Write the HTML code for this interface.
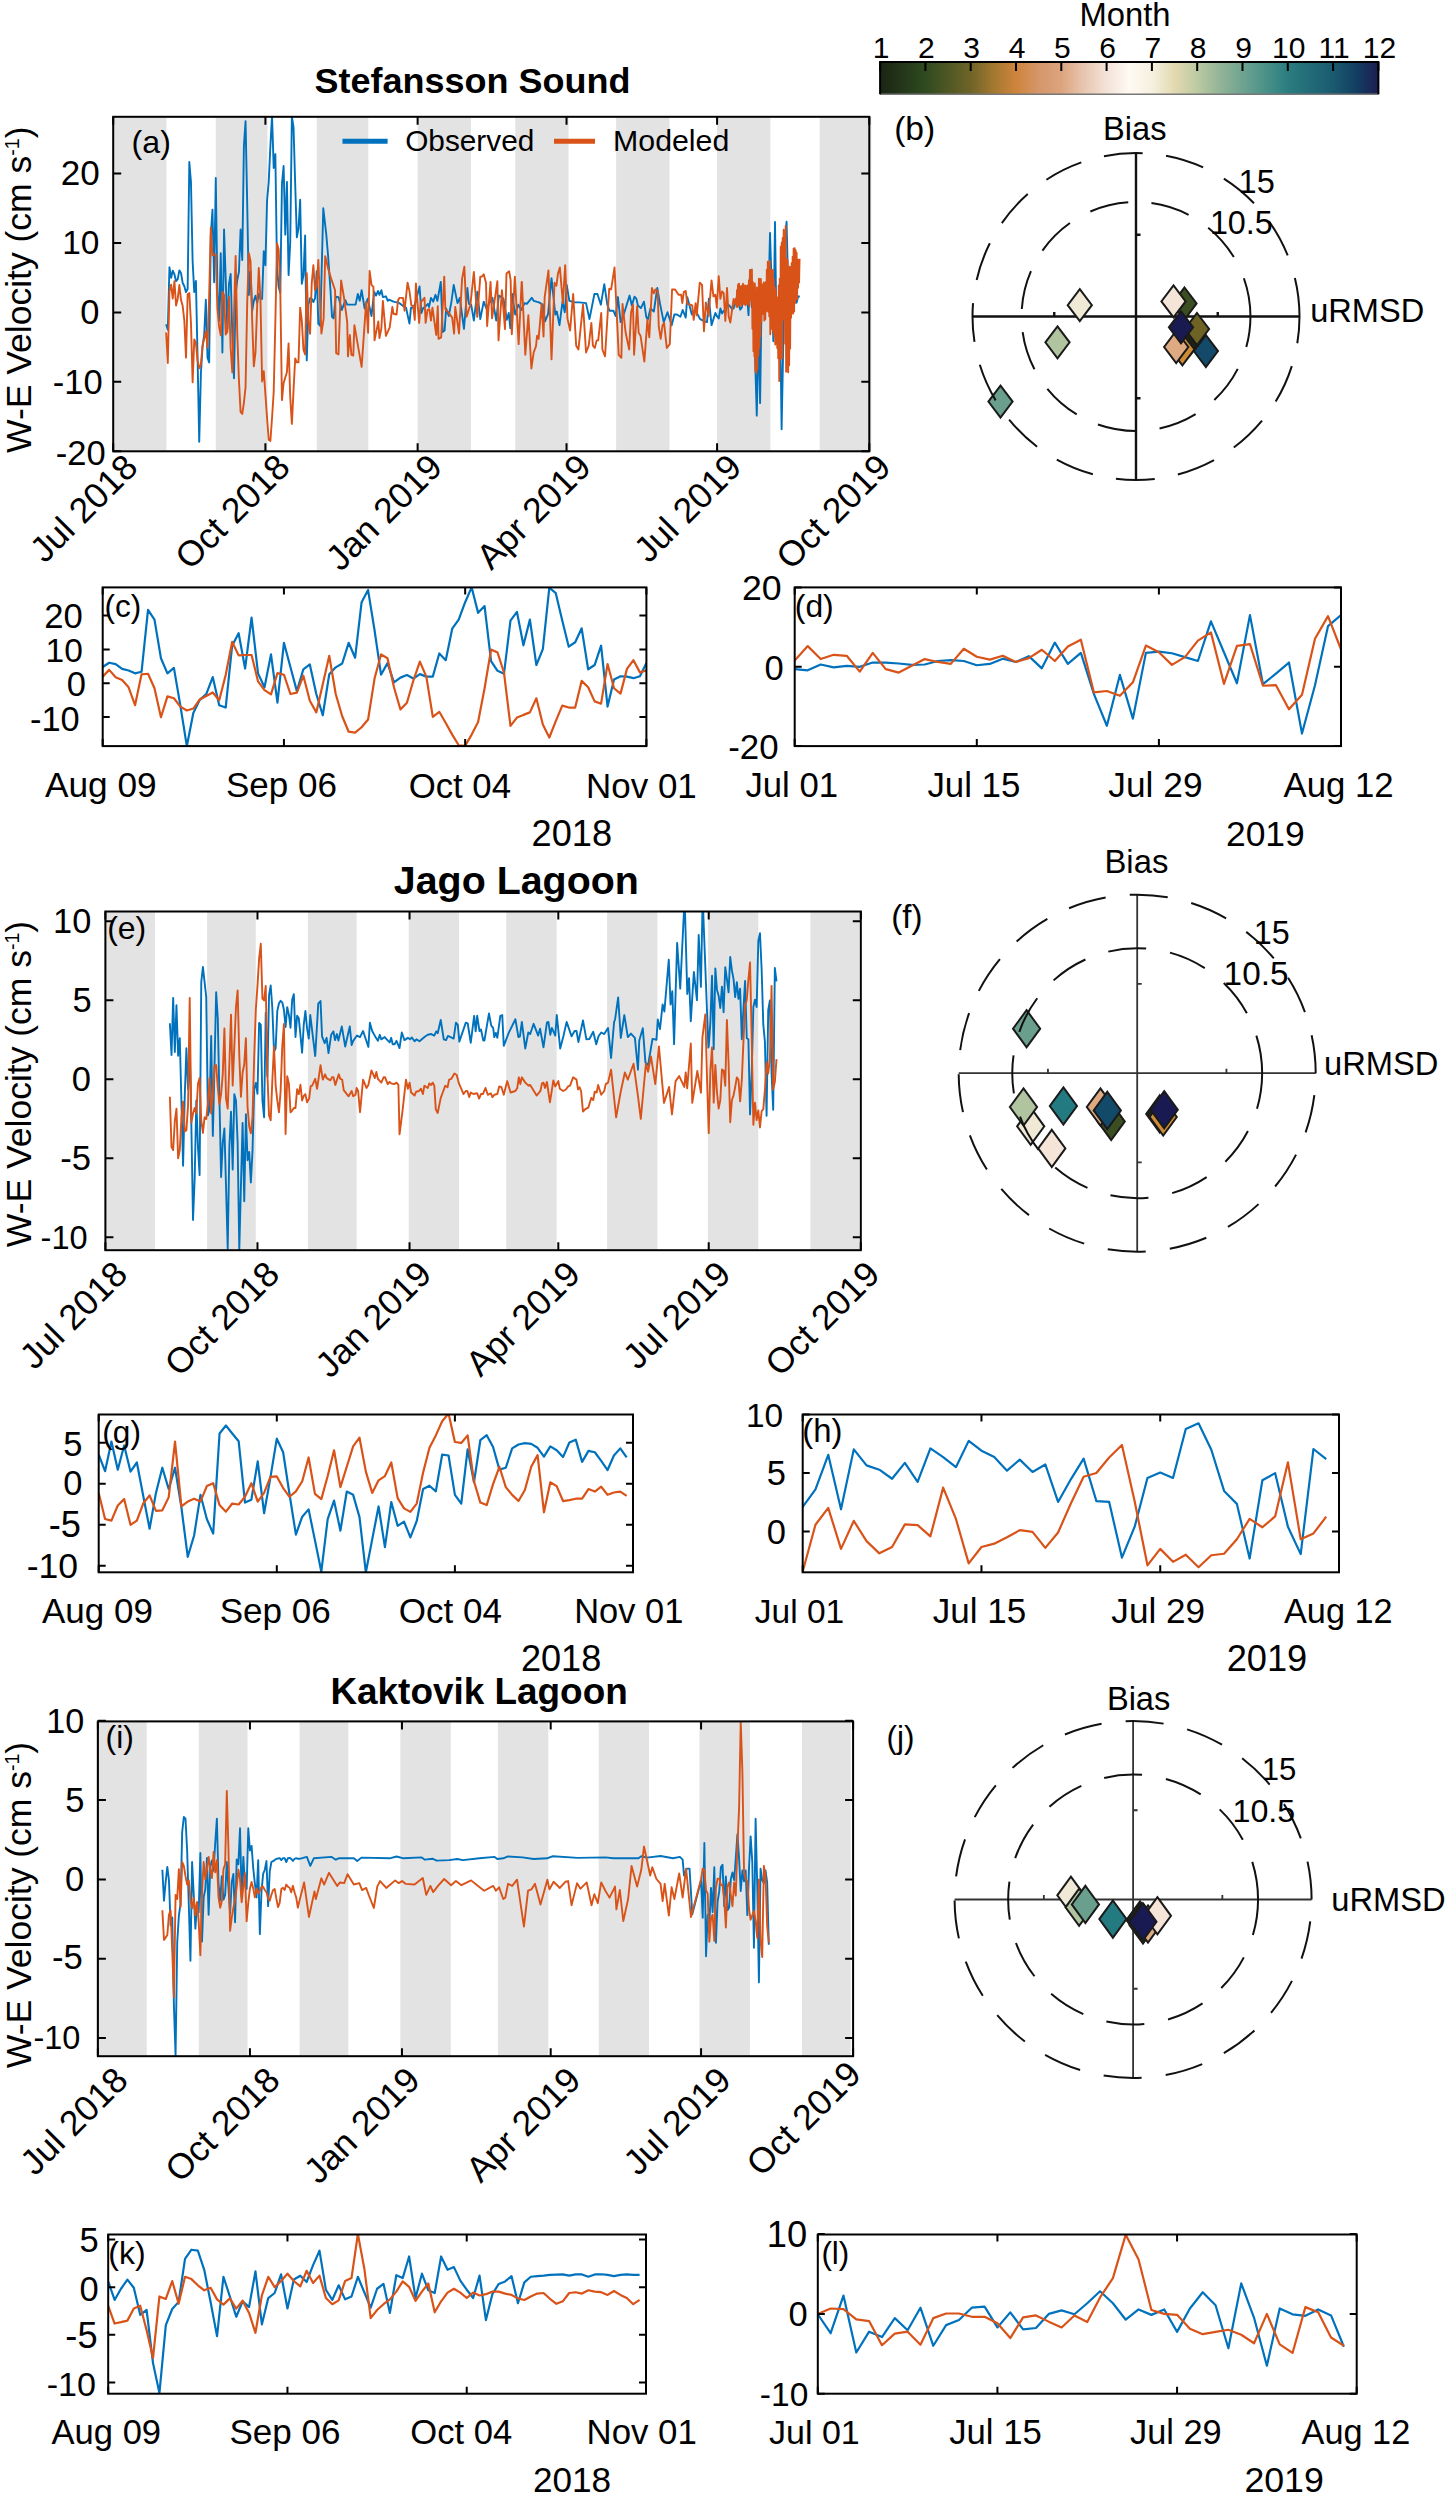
<!DOCTYPE html><html><head><meta charset="utf-8"><style>html,body{margin:0;padding:0;background:#fff;overflow:hidden;}svg{display:block;}</style></head><body><svg width="1449" height="2500" viewBox="0 0 1449 2500" font-family="Liberation Sans, sans-serif" fill="#000">
<rect width="1449" height="2500" fill="#fff"/>
<rect x="113.2" y="116.8" width="53.29" height="334.5" fill="#e3e3e3"/>
<rect x="215.78" y="116.8" width="51.63" height="334.5" fill="#e3e3e3"/>
<rect x="316.7" y="116.8" width="51.63" height="334.5" fill="#e3e3e3"/>
<rect x="417.63" y="116.8" width="53.29" height="334.5" fill="#e3e3e3"/>
<rect x="515.24" y="116.8" width="53.29" height="334.5" fill="#e3e3e3"/>
<rect x="616.16" y="116.8" width="53.29" height="334.5" fill="#e3e3e3"/>
<rect x="717.09" y="116.8" width="53.29" height="334.5" fill="#e3e3e3"/>
<rect x="819.67" y="116.8" width="51.63" height="334.5" fill="#e3e3e3"/>
<clipPath id="c1"><rect x="113.2" y="116.8" width="756.1" height="334.5"/></clipPath>
<polyline points="166.14,324.2 167.8,329.75 169.45,267.29 171.11,277.7 172.76,270.76 174.42,274.23 176.07,281.17 177.72,279.07 179.38,270.34 181.03,273.12 182.69,283.04 184.34,286.21 186,292.16 187.65,288.99 189.31,162.01 190.96,181.85 192.62,261.21 194.27,292.16 195.92,281.05 197.58,358.43 199.23,441.76 200.89,373.51 202.54,346.52 204.2,334.62 205.85,299.7 207.51,357.63 209.16,362.4 210.81,235.42 212.47,209.63 214.12,282.24 215.78,177.89 217.43,292.16 219.09,320.73 220.74,253.28 222.4,352.48 224.05,229.47 225.71,279.07 227.36,328.67 229.01,283.83 230.67,273.91 232.32,334.62 233.98,378.27 235.63,294.15 237.29,279.86 238.94,271.93 240.6,229.47 242.25,260.02 243.9,146.14 245.56,121.14 247.21,203.68 248.87,294.94 250.52,271.13 252.18,310.81 253.83,300.89 255.49,295.73 257.14,302.88 258.79,293.75 260.45,298.91 262.1,298.91 263.76,251.29 265.41,265.18 267.07,200.5 268.72,181.85 270.38,146.14 272.03,115.59 273.69,167.97 275.34,154.08 276.99,267.17 278.65,287 280.3,292.96 281.96,183.84 283.61,165.98 285.27,234.63 286.92,181.85 288.58,275.1 290.23,242.56 291.88,116.38 293.54,127.49 295.19,183.84 296.85,237.41 298.5,228.28 300.16,199.71 301.81,283.83 303.47,275.1 305.12,235.42 306.77,360.41 308.43,304.86 310.08,298.12 311.74,298.91 313.39,302.08 315.05,298.12 316.7,271.13 318.34,323.65 320.24,325.93 323.28,208.24 326.32,234.81 328.21,257.59 330.49,290.24 332.01,316.82 333.53,318.34 335.81,296.7 338.47,297.08 341.88,309.99 345.3,300.11 347.2,304.67 351.75,304.67 355.55,304.67 357.83,294.04 359.73,300.87 361.62,290.24 364.66,308.47 367.7,298.6 371.49,316.06 374.15,291.76 376.05,295.56 377.95,291 379.47,294.8 381.36,290.24 382.88,297.08 385.92,296.32 387.82,300.87 388.96,299.73 393.51,301.63 399.59,303.15 403.38,306.19 406.04,307.71 409.46,323.65 410.98,307.71 412.5,307.71 414.77,304.67 419.55,286.45 421.45,313.02 422.97,308.47 426.38,305.43 427.9,303.91 429.04,306.95 430.94,297.84 433.22,301.63 435.49,294.8 437.39,300.87 440.81,281.89 442.71,332.01 444.61,330.49 446.12,308.47 448.78,316.06 451.44,301.63 453.72,284.93 457.51,303.15 459.79,297.84 463.97,328.97 467.38,287.97 468.9,303.91 471.18,304.67 473.84,320.62 477.26,291.76 480.29,319.1 483.71,301.63 486.37,308.47 489.4,303.15 492.44,297.84 496.24,320.62 498.89,295.56 503.45,298.6 506.87,319.86 508.77,313.02 510.28,328.21 512.18,294.04 515.22,314.54 518.26,304.67 521.29,309.99 524.55,303.15 526.83,303.91 531.76,297.84 533.66,300.87 538.98,302.39 542.77,304.67 545.05,321.37 548.09,313.78 551.51,278.09 555.3,314.54 556.82,311.5 559.48,325.17 562.52,301.63 564.79,312.26 566.69,284.93 569.35,300.87 574.66,302.39 579.22,302.39 586.05,303.15 589.47,319.1 594.41,294.04 597.44,294.04 600.86,304.67 604.28,284.17 607.31,304.67 609.59,310.74 613.39,310.74 615.67,316.06 617.94,297.08 620.6,322.13 623.26,316.06 629.55,295.56 631.82,305.43 634.48,296.7 636.38,298.6 637.9,305.43 640.93,308.09 643.97,301.63 646.25,316.82 647.77,319.86 650.43,308.47 653.84,311.5 657.26,287.97 659.92,303.15 663.71,322.13 667.51,312.26 671.69,325.17 674.34,314.54 677,314.54 680.42,316.82 682.7,309.99 685.73,317.58 687.25,297.08 691.81,314.54 695.6,310.74 700.16,319.1 704.71,321.37 706.99,322.13 708.89,298.6 711.55,325.17 715.34,313.02 717.09,316.46 718.74,318.49 720.4,308.34 722.05,313.42 723.71,310.71 725.36,312.4 727.01,304.95 728.67,304.95 730.32,306.64 731.98,309.01 733.63,308.34 735.29,302.24 736.94,300.55 738.6,302.24 740.25,309.69 741.9,307.32 743.56,298.18 745.21,303.94 746.87,293.78 748.52,315.11 750.18,270.08 751.83,307.32 753.49,288.03 755.14,359.8 756.79,415.65 758.45,326.62 760.1,403.13 761.76,288.03 763.41,285.99 765.07,288.7 766.72,295.47 768.38,302.24 770.03,232.84 771.69,287.01 773.34,341.18 774.99,222.01 776.65,342.87 778.3,324.25 779.96,304.95 781.61,429.2 783.27,344.56 784.92,241.31 786.58,221.67 788.23,291.58 789.88,270.76 791.54,302.68 793.19,275.62 794.85,298.52 796.5,302.68 798.16,296.44 799.81,296.44" fill="none" stroke="#0072BD" stroke-width="1.9" stroke-linejoin="round" clip-path="url(#c1)"/>
<polyline points="166.14,332.53 167.8,363.06 169.45,291.58 171.11,284.64 172.76,298.52 174.42,281.17 176.07,305.46 177.72,298.91 179.38,285.02 181.03,300.1 182.69,306.05 184.34,320.73 186,357.63 187.65,294.15 189.31,292.96 190.96,322.72 192.62,382.24 194.27,339.38 195.92,343.35 197.58,360.41 199.23,368.35 200.89,364.38 202.54,345.73 204.2,338.59 205.85,331.45 207.51,347.32 209.16,295.73 210.81,227.49 212.47,255.26 214.12,254.47 215.78,254.47 217.43,308.83 219.09,326.68 220.74,335.41 222.4,291.77 224.05,294.94 225.71,334.62 227.36,331.84 229.01,296.92 230.67,348.51 232.32,372.32 233.98,314.78 235.63,256.05 237.29,334.62 238.94,380.25 240.6,412 242.25,413.98 243.9,402.87 245.56,387 247.21,302.88 248.87,253.28 250.52,261.21 252.18,320.73 253.83,366.36 255.49,352.48 257.14,306.84 258.79,267.96 260.45,298.91 262.1,381.44 263.76,371.13 265.41,394.14 267.07,417.95 268.72,439.77 270.38,440.96 272.03,417.95 273.69,392.16 275.34,322.72 276.99,243.36 278.65,249.31 280.3,290.97 281.96,400.09 283.61,383.03 285.27,377.47 286.92,372.32 288.58,343.35 290.23,397.31 291.88,423.9 293.54,390.17 295.19,358.43 296.85,362.4 298.5,362.4 300.16,307.64 301.81,320.73 303.47,349.7 305.12,354.46 306.77,273.12 308.43,322.72 310.08,333.83 311.74,283.04 313.39,265.18 315.05,290.18 316.7,286.21 318.34,259.87 321.38,333.52 323.66,318.34 325.18,256.08 328.21,268.98 331.25,278.85 335.05,290.24 336.19,353.27 338.47,354.4 341.12,280.37 344.16,298.6 347.2,322.13 347.96,356.3 349.85,335.04 351.37,354.78 353.27,355.54 354.41,325.17 361.62,366.93 366.18,301.63 368.08,332.76 369.6,270.88 371.49,284.93 373.39,286.83 374.53,340.36 378.33,321.37 379.47,338.08 381.36,328.21 382.88,300.87 385.92,335.8 389.72,327.45 392.37,306.95 393.51,313.78 396.55,314.54 398.07,300.11 399.59,297.84 403,297.84 404.52,310.74 407.56,282.65 409.46,291 411.36,305.43 413.25,306.19 414.77,319.86 415.91,283.41 419.17,322.89 420.69,302.39 424.48,297.84 425.62,322.89 427.52,309.99 429.42,309.23 430.94,320.62 432.46,307.71 436.25,335.04 437.77,306.19 438.53,338.84 441.19,337.32 444.23,276.58 445.37,309.23 448.4,312.26 452.2,317.58 454.1,333.52 455.24,306.95 459.03,333.52 462.07,278.85 464.35,266.71 466.63,316.82 470.42,304.67 473.84,272.02 477.26,316.82 480.29,276.58 481.81,276.58 483.71,274.3 485.99,282.65 487.13,325.93 490.54,281.89 492.06,318.34 497.38,281.13 498.52,340.36 501.93,290.24 504.97,328.97 506.49,273.54 509.15,271.26 510.66,280.37 511.8,334.28 514.84,276.58 518.64,344.15 521.67,281.89 521.89,281.89 525.31,354.78 528.35,315.3 531.38,368.45 533.66,352.51 535.94,346.43 537.08,335.8 538.6,338.84 541.64,303.91 543.53,336.56 544.67,297.08 548.47,270.5 551.51,359.34 554.54,282.65 556.44,285.69 557.96,273.54 559.86,267.46 562.9,303.15 565.17,265.19 567.45,318.34 570.11,330.49 573.15,294.04 576.18,345.67 578.46,349.47 583.02,304.67 586.05,352.51 588.71,345.67 591.37,322.89 592.89,345.67 594.79,347.95 596.68,340.36 598.2,340.36 601.24,313.02 602.38,349.47 605.04,356.3 609.21,288.73 611.11,289.48 614.53,267.46 618.7,354.78 621.36,357.82 622.5,303.91 625.54,332.01 629.17,349.47 631.06,312.26 632.96,304.67 634.1,354.78 637.14,306.19 638.66,332.76 640.56,335.8 644.35,361.62 647.39,319.86 649.29,337.32 651.94,287.97 653.84,293.28 655.36,289.48 657.64,291 658.78,326.69 660.68,338.84 662.57,325.17 664.09,322.89 666.75,347.95 669.79,344.15 672.07,289.48 675.1,289.48 678.52,294.8 681.18,294.8 682.32,303.15 683.83,291.76 685.73,291 687.25,303.91 690.29,304.67 692.19,305.43 693.71,319.86 695.6,303.15 696.74,315.3 699.78,282.65 702.06,284.93 703.96,331.25 705.85,302.39 708.51,316.06 711.55,280.37 713.45,296.32 715.34,294.8 716.86,307.71 717.09,301.57 718.74,276.18 720.4,298.86 722.05,291.41 723.71,293.1 725.36,320.86 727.01,288.03 728.67,316.46 730.32,322.56 731.98,310.71 733.63,298.86 735.29,303.94 736.03,298.3 736.53,306.87 737.03,289.98 737.52,306.87 738.02,284.81 738.52,305.34 739.01,283.6 739.51,304.89 740,286.09 740.5,303.29 741,287.31 741.49,306 741.99,285.72 742.49,303.21 742.98,283.77 743.48,303.79 743.97,286.18 744.47,303.93 744.97,285.33 745.46,305.29 745.96,285.64 746.46,303.84 746.95,287.29 747.45,303.81 747.95,285.25 748.44,301.99 748.94,280.19 749.43,306.12 749.93,270 750.43,300.19 750.92,275.06 751.42,299.95 751.92,269.41 752.41,328.76 752.91,281.94 753.41,351.15 753.9,288.46 754.4,356.42 754.89,283.55 755.39,371.01 755.89,297.31 756.38,372.96 756.88,287.41 757.38,369.2 757.87,298.93 758.37,355.63 758.87,278.81 759.36,347.74 759.86,279.61 760.35,336.49 760.85,278.92 761.35,322.25 761.84,284.22 762.34,309.32 762.84,285.37 763.33,314.06 763.83,282.49 764.32,320.45 764.82,287.61 765.32,319.29 765.81,281.84 766.31,311.26 766.81,269.66 767.3,310.19 767.8,261.75 768.3,311.72 768.79,263.44 769.29,316.37 769.78,260.91 770.28,334.25 770.78,269.81 771.27,327.36 771.77,270.15 772.27,329.35 772.76,269.83 773.26,331.93 773.76,278.65 774.25,335.98 774.75,286.9 775.24,344.47 775.74,290.31 776.24,338.21 776.73,297.15 777.23,348 777.73,299.43 778.22,358.3 778.72,285.36 779.22,380.96 779.71,278.79 780.21,359.39 780.7,246.59 781.2,358.3 781.7,242.6 782.19,358.24 782.69,237.84 783.19,319.82 783.68,229.82 784.18,318.1 784.68,236.23 785.17,343.45 785.67,226.03 786.16,371.67 786.66,259.31 787.16,356.88 787.65,260.3 788.15,372.23 788.65,276 789.14,365.36 789.64,266.66 790.13,348.65 790.63,268.41 791.13,317.62 791.62,263.28 792.12,306.69 792.62,256.71 793.11,313.62 793.61,248.63 794.11,311.47 794.6,248.11 795.1,302.95 795.59,250.08 796.09,299.35 796.59,252.73 797.08,299.02 797.58,259.48 798.08,287.75 798.57,260.6 799.07,282.57 799.57,258.75" fill="none" stroke="#D95319" stroke-width="1.9" stroke-linejoin="round" clip-path="url(#c1)"/>
<path d="M113.2 451.3V443.3 M113.2 116.8V124.8 M265.41 451.3V443.3 M265.41 116.8V124.8 M417.63 451.3V443.3 M417.63 116.8V124.8 M566.53 451.3V443.3 M566.53 116.8V124.8 M717.09 451.3V443.3 M717.09 116.8V124.8 M869.3 451.3V443.3 M869.3 116.8V124.8 M113.2 451.2H121.2 M869.3 451.2H861.3 M113.2 381.8H121.2 M869.3 381.8H861.3 M113.2 312.4H121.2 M869.3 312.4H861.3 M113.2 243H121.2 M869.3 243H861.3 M113.2 173.6H121.2 M869.3 173.6H861.3" stroke="#000" stroke-width="2" fill="none"/>
<rect x="113.2" y="116.8" width="756.1" height="334.5" fill="none" stroke="#000" stroke-width="2"/>
<text x="139.7" y="469.3" font-size="35.5" text-anchor="end" transform="rotate(-45 139.7 469.3)">Jul 2018</text>
<text x="291.91" y="469.3" font-size="35.5" text-anchor="end" transform="rotate(-45 291.91 469.3)">Oct 2018</text>
<text x="444.13" y="469.3" font-size="35.5" text-anchor="end" transform="rotate(-45 444.13 469.3)">Jan 2019</text>
<text x="593.03" y="469.3" font-size="35.5" text-anchor="end" transform="rotate(-45 593.03 469.3)">Apr 2019</text>
<text x="743.59" y="469.3" font-size="35.5" text-anchor="end" transform="rotate(-45 743.59 469.3)">Jul 2019</text>
<text x="892.8" y="469.3" font-size="35.5" text-anchor="end" transform="rotate(-45 892.8 469.3)">Oct 2019</text>
<text x="31" y="289.7" font-size="35.5" text-anchor="middle" transform="rotate(-90 31 289.7)">W-E Velocity (cm s<tspan font-size="19.53" dy="-11.71">-1</tspan><tspan dy="11.71">)</tspan></text>
<path d="M342.5 141.3H387.6" stroke="#0072BD" stroke-width="5"/>
<path d="M554 141.3H595" stroke="#D95319" stroke-width="5"/>
<defs><linearGradient id="cmap" x1="0" x2="1" y1="0" y2="0">
<stop offset="0.0000" stop-color="#1a2414"/>
<stop offset="0.0909" stop-color="#2f4a20"/>
<stop offset="0.1818" stop-color="#6f6428"/>
<stop offset="0.2273" stop-color="#a27830"/>
<stop offset="0.2727" stop-color="#cf843c"/>
<stop offset="0.3182" stop-color="#d5966a"/>
<stop offset="0.3636" stop-color="#dca47e"/>
<stop offset="0.4091" stop-color="#e8c6b0"/>
<stop offset="0.4545" stop-color="#f3e2d8"/>
<stop offset="0.5000" stop-color="#fffaf2"/>
<stop offset="0.5455" stop-color="#f6f0e0"/>
<stop offset="0.5909" stop-color="#e3d9b1"/>
<stop offset="0.6364" stop-color="#bccaa2"/>
<stop offset="0.6818" stop-color="#93b497"/>
<stop offset="0.7273" stop-color="#6fa391"/>
<stop offset="0.7727" stop-color="#4a9288"/>
<stop offset="0.8182" stop-color="#2b7d80"/>
<stop offset="0.8636" stop-color="#226b78"/>
<stop offset="0.9091" stop-color="#1b5a70"/>
<stop offset="0.9545" stop-color="#123f62"/>
<stop offset="1.0000" stop-color="#1d1d52"/>
</linearGradient></defs>
<rect x="880.1" y="62.1" width="498.3" height="32.1" fill="url(#cmap)"/>
<path d="M880.1 94.2H1378.4" stroke="#777" stroke-width="1.5"/>
<path d="M880.1 94.2V62.1 H1378.4 V94.2" stroke="#000" stroke-width="2" fill="none"/>
<path d="M880.1 62.1V71.1 M925.4 62.1V71.1 M970.7 62.1V71.1 M1016 62.1V71.1 M1061.3 62.1V71.1 M1106.6 62.1V71.1 M1151.9 62.1V71.1 M1197.2 62.1V71.1 M1242.5 62.1V71.1 M1287.8 62.1V71.1 M1333.1 62.1V71.1 M1378.4 62.1V71.1" stroke="#000" stroke-width="2"/>
<text x="881.1" y="57.6" font-size="30" text-anchor="middle">1</text>
<text x="926.4" y="57.6" font-size="30" text-anchor="middle">2</text>
<text x="971.7" y="57.6" font-size="30" text-anchor="middle">3</text>
<text x="1017" y="57.6" font-size="30" text-anchor="middle">4</text>
<text x="1062.3" y="57.6" font-size="30" text-anchor="middle">5</text>
<text x="1107.6" y="57.6" font-size="30" text-anchor="middle">6</text>
<text x="1152.9" y="57.6" font-size="30" text-anchor="middle">7</text>
<text x="1198.2" y="57.6" font-size="30" text-anchor="middle">8</text>
<text x="1243.5" y="57.6" font-size="30" text-anchor="middle">9</text>
<text x="1288.8" y="57.6" font-size="30" text-anchor="middle">10</text>
<text x="1334.1" y="57.6" font-size="30" text-anchor="middle">11</text>
<text x="1379.4" y="57.6" font-size="30" text-anchor="middle">12</text>
<path d="M972.5 316.5H1299.5 M1136 153V480" stroke="#111" stroke-width="2.4"/>
<path d="M1054.25 316.5V312 M1217.75 316.5V312 M1136 234.75H1140.5 M1136 398.25H1140.5" stroke="#111" stroke-width="2.4"/>
<path d="M1190 323L1202.1 339L1190 355L1177.9 339Z" fill="#1c2216" stroke="#1a1a1a" stroke-width="2" stroke-linejoin="miter" stroke-miterlimit="10"/>
<path d="M1184.5 287.5L1196.6 303.5L1184.5 319.5L1172.4 303.5Z" fill="#3a4e22" stroke="#1a1a1a" stroke-width="2" stroke-linejoin="miter" stroke-miterlimit="10"/>
<path d="M1197 313L1209.1 329L1197 345L1184.9 329Z" fill="#6e6224" stroke="#1a1a1a" stroke-width="2" stroke-linejoin="miter" stroke-miterlimit="10"/>
<path d="M1182.4 333.4L1194.5 349.4L1182.4 365.4L1170.3 349.4Z" fill="#d08b35" stroke="#1a1a1a" stroke-width="2" stroke-linejoin="miter" stroke-miterlimit="10"/>
<path d="M1176.2 331L1188.3 347L1176.2 363L1164.1 347Z" fill="#ddaa82" stroke="#1a1a1a" stroke-width="2" stroke-linejoin="miter" stroke-miterlimit="10"/>
<path d="M1173.5 285.4L1185.6 301.4L1173.5 317.4L1161.4 301.4Z" fill="#f5e4d8" stroke="#1a1a1a" stroke-width="2" stroke-linejoin="miter" stroke-miterlimit="10"/>
<path d="M1079.8 289.2L1091.9 305.2L1079.8 321.2L1067.7 305.2Z" fill="#efe9d6" stroke="#1a1a1a" stroke-width="2" stroke-linejoin="miter" stroke-miterlimit="10"/>
<path d="M1057.5 326.3L1069.6 342.3L1057.5 358.3L1045.4 342.3Z" fill="#b0c4a0" stroke="#1a1a1a" stroke-width="2" stroke-linejoin="miter" stroke-miterlimit="10"/>
<path d="M1000.5 385.6L1012.6 401.6L1000.5 417.6L988.4 401.6Z" fill="#6a9f8e" stroke="#1a1a1a" stroke-width="2" stroke-linejoin="miter" stroke-miterlimit="10"/>
<path d="M1205.9 335.1L1218 351.1L1205.9 367.1L1193.8 351.1Z" fill="#134a6a" stroke="#1a1a1a" stroke-width="2" stroke-linejoin="miter" stroke-miterlimit="10"/>
<path d="M1181 311.3L1193.1 327.3L1181 343.3L1168.9 327.3Z" fill="#1a1a52" stroke="#1a1a1a" stroke-width="2" stroke-linejoin="miter" stroke-miterlimit="10"/>
<circle cx="1136" cy="316.5" r="163.5" fill="none" stroke="#111" stroke-width="2" stroke-dasharray="39 23.5" transform="matrix(1 0 0 -1 0 633)"/>
<circle cx="1136" cy="316.5" r="114.45" fill="none" stroke="#111" stroke-width="2" stroke-dasharray="39 23.5" transform="matrix(1 0 0 -1 0 633)"/>
<clipPath id="c2"><rect x="102.7" y="587.4" width="543.7" height="158.7"/></clipPath>
<polyline points="102.7,666.97 109.17,662.72 115.65,664.07 122.12,668.9 128.59,670.45 135.06,673.34 141.54,671.8 148.01,609.96 154.48,619.62 160.95,658.27 167.43,673.34 173.9,667.93 180.37,705.62 186.84,746.2 193.32,712.96 199.79,699.82 206.26,694.02 212.73,677.02 219.21,705.23 225.68,707.55 232.15,645.71 238.62,633.15 245.1,668.51 251.57,617.69 258.04,673.34 264.52,687.26 270.99,654.41 277.46,702.72 283.93,642.81 290.41,666.97 296.88,691.12 303.35,669.29 309.82,664.45 316.3,694.02 322.77,715.28 329.24,674.31 335.71,667.35 342.19,663.49 348.66,642.81 355.13,657.69 361.6,602.23 368.08,590.05 374.55,630.25 381.02,674.7 387.5,663.1 393.97,682.43 400.44,677.6 406.91,675.08 413.39,678.56 419.86,674.12 426.33,676.63 432.8,676.63 439.28,653.44 445.75,660.2 452.22,628.7 458.69,619.62 465.17,602.23 471.64,587.35 478.11,612.86 484.58,606.09 491.06,661.17 497.53,670.83 504,673.73 510.47,620.59 516.95,611.89 523.42,645.32 529.89,619.62 536.37,665.03 542.84,649.19 549.31,587.73 555.78,593.14 562.26,620.59 568.73,646.68 575.2,642.23 581.67,628.32 588.15,669.29 594.62,665.03 601.09,645.71 607.56,706.58 614.04,679.53 620.51,676.24 626.98,676.63 633.45,678.18 639.93,676.24 646.4,663.1" fill="none" stroke="#0072BD" stroke-width="2.2" stroke-linejoin="round" clip-path="url(#c2)"/>
<polyline points="102.7,676.63 109.17,669.87 115.65,677.21 122.12,680.11 128.59,687.26 135.06,705.23 141.54,674.31 148.01,673.73 154.48,688.22 160.95,717.21 167.43,696.34 173.9,698.27 180.37,706.58 186.84,710.45 193.32,708.52 199.79,699.43 206.26,695.95 212.73,692.48 219.21,700.21 225.68,675.08 232.15,641.84 238.62,655.37 245.1,654.99 251.57,654.99 258.04,681.46 264.52,690.16 270.99,694.41 277.46,673.15 283.93,674.7 290.41,694.02 296.88,692.67 303.35,675.66 309.82,700.79 316.3,712.38 322.77,684.36 329.24,655.76 335.71,694.02 342.19,716.25 348.66,731.71 355.13,732.67 361.6,727.26 368.08,719.53 374.55,678.56 381.02,654.41 387.5,658.27 393.97,687.26 400.44,709.48 406.91,702.72 413.39,680.49 419.86,661.56 426.33,676.63 432.8,716.83 439.28,711.8 445.75,723.01 452.22,734.61 458.69,745.23 465.17,745.81 471.64,734.61 478.11,722.04 484.58,688.22 491.06,649.57 497.53,652.47 504,672.76 510.47,725.91 516.95,717.6 523.42,714.89 529.89,712.38 536.37,698.27 542.84,724.56 549.31,737.5 555.78,721.08 562.26,705.62 568.73,707.55 575.2,707.55 581.67,680.88 588.15,687.26 594.62,701.37 601.09,703.68 607.56,664.07 614.04,688.22 620.51,693.64 626.98,668.9 633.45,660.2 639.93,672.38 646.4,670.45" fill="none" stroke="#D95319" stroke-width="2.2" stroke-linejoin="round" clip-path="url(#c2)"/>
<path d="M102.7 746.1V739.1 M102.7 587.4V594.4 M283.93 746.1V739.1 M283.93 587.4V594.4 M465.17 746.1V739.1 M465.17 587.4V594.4 M646.4 746.1V739.1 M646.4 587.4V594.4 M102.7 717H109.7 M646.4 717H639.4 M102.7 683.2H109.7 M646.4 683.2H639.4 M102.7 649.4H109.7 M646.4 649.4H639.4 M102.7 615.6H109.7 M646.4 615.6H639.4" stroke="#000" stroke-width="2" fill="none"/>
<rect x="102.7" y="587.4" width="543.7" height="158.7" fill="none" stroke="#000" stroke-width="2"/>
<clipPath id="c3"><rect x="794.7" y="587.4" width="546.3" height="158.7"/></clipPath>
<polyline points="794.7,669.12 807.71,670.28 820.71,664.48 833.72,667.38 846.73,665.83 859.74,666.8 872.74,662.54 885.75,662.54 898.76,663.51 911.76,664.87 924.77,664.48 937.78,661 950.79,660.03 963.79,661 976.8,665.25 989.81,663.9 1002.81,658.68 1015.82,661.96 1028.83,656.16 1041.84,668.35 1054.84,642.62 1067.85,663.9 1080.86,652.87 1093.86,693.88 1106.87,725.79 1119.88,674.92 1132.89,718.64 1145.89,652.87 1158.9,651.71 1171.91,653.26 1184.91,657.13 1197.92,661 1210.93,621.35 1223.94,652.29 1236.94,683.24 1249.95,615.16 1262.96,684.21 1275.96,673.57 1288.97,662.54 1301.98,733.53 1314.99,685.17 1327.99,626.18 1341,614.96" fill="none" stroke="#0072BD" stroke-width="2.2" stroke-linejoin="round" clip-path="url(#c3)"/>
<polyline points="794.7,660.61 807.71,646.1 820.71,659.06 833.72,654.81 846.73,655.78 859.74,671.64 872.74,652.87 885.75,669.12 898.76,672.6 911.76,665.83 924.77,659.06 937.78,661.96 950.79,663.9 963.79,648.81 976.8,656.74 989.81,659.64 1002.81,655.78 1015.82,661.96 1028.83,658.1 1041.84,649.78 1054.84,661 1067.85,646.49 1080.86,639.72 1093.86,692.33 1106.87,690.98 1119.88,695.81 1132.89,682.27 1145.89,645.52 1158.9,652.29 1171.91,664.87 1184.91,657.13 1197.92,640.69 1210.93,632.37 1223.94,683.82 1236.94,645.91 1249.95,644.17 1262.96,685.75 1275.96,685.17 1288.97,709.35 1301.98,694.85 1314.99,638.75 1327.99,616.13 1341,649.39" fill="none" stroke="#D95319" stroke-width="2.2" stroke-linejoin="round" clip-path="url(#c3)"/>
<path d="M794.7 746.1V739.1 M794.7 587.4V594.4 M976.8 746.1V739.1 M976.8 587.4V594.4 M1158.9 746.1V739.1 M1158.9 587.4V594.4 M1341 746.1V739.1 M1341 587.4V594.4 M794.7 746.1H801.7 M1341 746.1H1334 M794.7 666.8H801.7 M1341 666.8H1334 M794.7 587.5H801.7 M1341 587.5H1334" stroke="#000" stroke-width="2" fill="none"/>
<rect x="794.7" y="587.4" width="546.3" height="158.7" fill="none" stroke="#000" stroke-width="2"/>
<rect x="104.6" y="911.5" width="50.34" height="338.7" fill="#e3e3e3"/>
<rect x="207.08" y="911.5" width="48.69" height="338.7" fill="#e3e3e3"/>
<rect x="307.91" y="911.5" width="48.69" height="338.7" fill="#e3e3e3"/>
<rect x="408.74" y="911.5" width="50.34" height="338.7" fill="#e3e3e3"/>
<rect x="506.27" y="911.5" width="50.34" height="338.7" fill="#e3e3e3"/>
<rect x="607.1" y="911.5" width="50.34" height="338.7" fill="#e3e3e3"/>
<rect x="707.93" y="911.5" width="50.34" height="338.7" fill="#e3e3e3"/>
<rect x="810.41" y="911.5" width="48.69" height="338.7" fill="#e3e3e3"/>
<clipPath id="c4"><rect x="105.4" y="911.5" width="755.4" height="338.7"/></clipPath>
<polyline points="169.87,1023.22 171.52,1054.94 173.17,997.85 174.82,1051.96 176.48,1005.31 178.13,1055.69 179.78,1038.15 181.44,1102.34 183.09,1165.78 184.74,1096.74 186.39,1048.23 188.05,1089.28 189.7,1048.23 191.35,1124.73 193.01,1219.88 194.66,1178.84 196.31,1100.47 197.97,1147.12 199.62,1175.1 201.27,982.18 202.92,966.88 204.58,982.18 206.23,997.1 207.88,1115.4 209.54,1109.8 211.19,1035.91 212.84,1135.92 214.49,1066.89 216.15,992.25 217.8,1018.37 219.45,1099.35 221.11,1176.97 222.76,1142.64 224.41,1128.46 226.07,1188.17 227.72,1248.62 229.37,1147.12 231.02,1111.67 232.68,1169.51 234.33,1094.13 235.98,1100.47 237.64,1143.39 239.29,1249.74 240.94,1186.3 242.6,1122.86 244.25,1201.23 245.9,1114.28 247.55,1160.18 249.21,1151.97 250.86,1182.57 252.51,1150.85 254.17,1089.28 255.82,1082.93 257.47,1093.75 259.12,1022.85 260.78,1024.72 262.43,1100.47 264.08,1117.26 265.74,1012.78 267.39,1076.21 269.04,995.24 270.7,985.53 272.35,1008.3 274,1051.96 275.65,1048.23 277.31,1010.91 278.96,1003.45 280.61,1000.83 282.27,1002.33 283.92,1009.79 285.57,1026.96 287.22,1007.18 288.88,1014.64 290.53,1027.7 292.18,999.71 293.84,994.12 295.49,1037.03 297.14,1015.76 298.8,1018.37 300.45,1035.17 302.1,1052.7 303.75,1024.72 305.41,1010.91 307.06,1028.45 308.77,1038.6 310.28,1015.06 315.22,1056.06 318.26,1003.67 320.54,1001.01 322.05,1036.32 324.71,1043.15 326.61,1037.84 328.51,1053.02 331.17,1034.8 333.45,1031.38 334.97,1040.11 336.86,1034.04 338.38,1040.49 341.8,1026.45 345.22,1046.57 349.77,1026.45 351.67,1045.05 353.19,1040.87 356.99,1035.56 360.03,1037.08 363.06,1031 368.38,1046.95 369.9,1022.65 372.18,1031 375.97,1037.84 377.87,1040.87 379.77,1034.8 381.29,1039.35 384.71,1037.08 388.12,1040.87 389.64,1042.39 391.16,1037.84 392.68,1044.29 394.58,1044.29 396.48,1040.87 399.52,1048.09 401.79,1032.52 404.45,1040.11 407.87,1037.84 409.98,1039.35 411.88,1037.46 414.54,1041.25 416.44,1039.35 419.47,1041.25 424.79,1036.7 427.83,1034.8 431.24,1034.04 434.28,1035.56 436.18,1031.38 437.7,1033.28 440.74,1019.99 443.77,1039.35 446.05,1040.11 447.95,1035.94 453.65,1038.6 455.93,1022.65 457.82,1024.93 459.34,1041.63 465.8,1022.65 467.7,1023.41 470.73,1042.77 474.15,1015.82 475.67,1031.38 477.19,1015.82 479.47,1031 480.99,1029.48 483.26,1040.49 484.4,1040.49 488.96,1013.54 491.24,1025.69 493.14,1027.97 494.28,1037.08 495.8,1032.9 497.31,1037.84 500.35,1015.82 502.25,1015.06 503.77,1045.81 508.71,1032.9 515.38,1019.23 518.42,1037.08 519.94,1036.32 521.84,1021.89 525.25,1048.47 528.29,1032.52 530.19,1034.04 533.61,1023.79 538.16,1035.56 540.06,1028.73 543.48,1047.33 546.9,1022.65 548.42,1021.89 550.31,1034.8 551.83,1027.97 555.25,1035.56 556.77,1015.06 560.19,1048.47 563.22,1037.08 566.64,1021.89 571.58,1036.32 574.62,1031 576.51,1031 578.41,1042.01 582.97,1020.37 586.39,1039.35 589.42,1038.97 593.22,1031.76 596.26,1044.29 598.54,1036.32 601.2,1032.52 604.23,1034.04 608.03,1027.97 611.07,1057.96 614.11,1021.89 615.07,1019.48 618.15,997.47 620.8,1037.96 624.32,1015.08 627.84,1037.08 630.92,1033.56 634.88,1037.96 637.96,1069.65 639.28,1040.6 642.81,1028.28 645.45,1062.61 648.09,1065.25 652.49,1038.84 656.45,1039.72 657.77,1019.48 659.97,1029.16 662.61,1004.51 664.38,1011.55 668.78,959.62 670.54,1004.51 672.3,991.31 674.06,1044.12 677.14,942.9 680.22,988.67 684.63,897.48 687.27,993.95 689.03,978.11 690.79,1021.24 693.87,971.94 696.95,1000.11 698.71,934.98 700.91,986.91 702.67,897.48 708.4,1047.64 708.73,1046.09 710.38,1022.36 712.03,975.69 713.69,1049.22 715.34,968.39 716.99,990.03 718.65,995.77 720.3,1008.02 721.95,986.64 723.6,1012.19 725.26,967.09 726.91,978.82 728.56,992.38 730.22,956.92 731.87,970.22 733.52,978.82 735.18,997.07 736.83,982.21 738.48,998.9 740.13,988.73 741.79,1039.31 743.44,1008.8 745.09,980.91 746.75,1038.27 748.4,1039.31 750.05,1114.4 751.71,1072.68 753.36,1006.98 755.01,999.68 756.66,1006.98 758.32,941.02 759.97,933.19 761.62,968.91 763.28,1024.45 764.93,1041.92 766.58,1115.7 768.23,1010.11 769.89,1000.46 771.54,1072.68 773.19,1109.7 774.85,967.87 776.5,981.43" fill="none" stroke="#0072BD" stroke-width="1.9" stroke-linejoin="round" clip-path="url(#c4)"/>
<polyline points="169.87,1096.74 171.52,1147.12 173.17,1150.1 174.82,1120.99 176.48,1108.68 178.13,1158.31 179.78,1150.1 181.44,1117.26 183.09,1101.59 184.74,1131.44 186.39,1130.32 188.05,1105.32 189.7,997.85 191.35,1122.86 193.01,1113.53 194.66,1107.93 196.31,1113.53 197.97,1083.68 199.62,1078.08 201.27,1120.25 202.92,1132.94 204.58,1117.26 206.23,1119.13 207.88,1104.2 209.54,1078.08 211.19,1113.53 212.84,1096.74 214.49,1065.77 216.15,1065.02 217.8,1087.41 219.45,1104.2 221.11,1093.75 222.76,1074.35 224.41,1028.45 226.07,1098.6 227.72,1108.68 229.37,1064.27 231.02,1014.64 232.68,1085.54 234.33,1046.36 235.98,1007.18 237.64,990.39 239.29,1055.69 240.94,1096.74 242.6,1072.48 244.25,1064.27 245.9,1038.15 247.55,1106.81 249.21,1126.59 250.86,1133.31 252.51,1117.26 254.17,1057.56 255.82,1009.79 257.47,985.91 259.12,958.67 260.78,943.74 262.43,998.6 264.08,1000.46 265.74,985.91 267.39,1074.35 269.04,1115.4 270.7,1120.25 272.35,1079.95 274,1046.36 275.65,1085.54 277.31,1100.47 278.96,1112.41 280.61,1091.14 282.27,1046.36 283.92,1023.97 285.57,1134.06 287.22,1076.21 288.88,1083.68 290.53,1112.41 292.18,1110.55 293.84,1107.93 295.49,1107.93 297.14,1089.28 298.8,1094.13 300.45,1084.8 302.1,1100.47 303.75,1095.99 305.41,1094.13 307.06,1102.34 309.14,1098.58 310.66,1086.05 312.18,1085.67 315.22,1078.84 317.12,1088.71 320.54,1065.17 322.81,1079.59 325.09,1074.28 326.61,1078.08 330.41,1080.35 331.93,1077.32 333.45,1077.32 335.34,1084.91 338.76,1074.28 340.28,1078.84 342.18,1079.59 343.7,1090.22 348.63,1096.3 351.67,1090.98 353.19,1096.3 355.47,1094.78 356.61,1087.95 358.13,1090.98 360.03,1112.24 363.06,1079.59 366.48,1087.95 368.38,1084.91 371.42,1070.48 374.83,1078.08 376.35,1072 377.87,1078.84 381.29,1082.63 383.57,1077.32 385.09,1077.32 387.74,1084.15 389.64,1081.87 391.16,1083.39 394.2,1084.15 396.48,1082.63 398.38,1084.91 399.52,1134.26 402.55,1110.72 405.97,1079.59 407.87,1088.71 409.6,1082.63 411.12,1092.5 414.54,1095.54 416.06,1091.74 419.09,1090.98 420.99,1088.71 422.89,1094.02 424.41,1085.67 427.83,1087.95 429.35,1083.39 431.24,1084.91 432.76,1082.63 434.28,1085.67 435.8,1109.21 437.7,1113 440.74,1097.82 443.02,1091.74 445.29,1085.67 447.57,1087.19 449.09,1079.59 451.37,1078.84 454.41,1073.52 456.69,1075.04 458.96,1083.39 463.52,1094.02 465.8,1090.98 467.32,1090.98 469.22,1097.06 470.73,1092.5 473.39,1094.02 477.19,1093.26 479.09,1098.58 480.99,1094.02 482.89,1094.02 485.54,1087.95 487.82,1094.78 490.86,1093.26 492.38,1097.06 494.28,1094.78 497.31,1094.02 499.21,1086.43 501.49,1087.19 503.77,1094.78 507.19,1081.11 510.6,1092.5 515.38,1090.98 517.28,1087.95 518.8,1077.32 520.32,1084.15 521.84,1077.32 525.25,1082.63 528.67,1085.67 530.19,1084.91 536.64,1095.54 540.44,1090.98 541.96,1083.39 543.48,1082.63 545,1087.95 546.9,1081.87 549.93,1102.37 553.35,1080.35 555.25,1086.43 558.29,1081.11 559.81,1088.71 563.22,1090.98 565.88,1089.47 568.16,1086.43 570.06,1085.67 573.1,1077.32 576.51,1079.59 578.03,1089.47 579.55,1087.19 581.07,1090.98 582.97,1111.48 585.25,1109.21 588.28,1107.69 591.32,1097.82 593.22,1100.09 594.74,1091.74 596.64,1092.5 598.16,1084.91 601.2,1094.78 604.23,1090.98 605.75,1084.15 608.03,1082.63 611.07,1069.72 616.16,1117.4 620.51,1092.75 624.86,1072.46 627.76,1079.71 633.56,1063.76 637.9,1095.65 640.8,1118.84 645.88,1063.76 648.05,1071.73 650.95,1056.51 655.3,1084.06 658.92,1046.37 663.99,1102.9 669.07,1086.96 671.97,1114.5 675.59,1081.16 679.21,1076.08 684.29,1086.96 685.74,1072.46 687.19,1088.4 690.81,1043.47 692.26,1102.9 697.33,1071.01 700.96,1092.75 702.41,1037.67 705.31,1014.48 707.19,1084.06 708.73,1133.17 710.38,1070.07 712.03,1047.39 713.69,1102.67 715.34,1064.86 716.99,1092.24 718.65,1108.66 720.3,1100.06 721.95,1069.55 723.6,1070.6 725.26,1085.72 726.91,1020.02 728.56,1062.25 730.22,1122.22 731.87,1100.06 733.52,1095.63 735.18,1087.02 736.83,1077.37 738.48,1079.72 740.13,1101.36 741.79,1080.5 743.44,1041.39 745.09,1005.41 746.75,1000.2 748.4,979.34 750.05,962.39 751.71,1038.79 753.36,1124.83 755.01,1102.67 756.66,1120.13 758.32,1110.49 759.97,1127.43 761.62,1111.27 763.28,1109.18 764.93,1089.63 766.58,1062.25 768.23,1073.46 769.89,1058.86 771.54,985.86 773.19,1089.63 774.85,1081.81 776.5,1059.12" fill="none" stroke="#D95319" stroke-width="1.9" stroke-linejoin="round" clip-path="url(#c4)"/>
<path d="M105.4 1250.2V1242.2 M105.4 911.5V919.5 M257.47 1250.2V1242.2 M257.47 911.5V919.5 M409.54 1250.2V1242.2 M409.54 911.5V919.5 M558.31 1250.2V1242.2 M558.31 911.5V919.5 M708.73 1250.2V1242.2 M708.73 911.5V919.5 M860.8 1250.2V1242.2 M860.8 911.5V919.5 M105.4 1237.2H113.4 M860.8 1237.2H852.8 M105.4 1158.2H113.4 M860.8 1158.2H852.8 M105.4 1079.2H113.4 M860.8 1079.2H852.8 M105.4 1000.2H113.4 M860.8 1000.2H852.8 M105.4 921.2H113.4 M860.8 921.2H852.8" stroke="#000" stroke-width="2" fill="none"/>
<rect x="105.4" y="911.5" width="755.4" height="338.7" fill="none" stroke="#000" stroke-width="2"/>
<text x="129.4" y="1276.2" font-size="35.5" text-anchor="end" transform="rotate(-45 129.4 1276.2)">Jul 2018</text>
<text x="281.47" y="1276.2" font-size="35.5" text-anchor="end" transform="rotate(-45 281.47 1276.2)">Oct 2018</text>
<text x="433.54" y="1276.2" font-size="35.5" text-anchor="end" transform="rotate(-45 433.54 1276.2)">Jan 2019</text>
<text x="582.31" y="1276.2" font-size="35.5" text-anchor="end" transform="rotate(-45 582.31 1276.2)">Apr 2019</text>
<text x="732.73" y="1276.2" font-size="35.5" text-anchor="end" transform="rotate(-45 732.73 1276.2)">Jul 2019</text>
<text x="881.8" y="1276.2" font-size="35.5" text-anchor="end" transform="rotate(-45 881.8 1276.2)">Oct 2019</text>
<text x="31" y="1084" font-size="35.5" text-anchor="middle" transform="rotate(-90 31 1084)">W-E Velocity (cm s<tspan font-size="19.53" dy="-11.71">-1</tspan><tspan dy="11.71">)</tspan></text>
<path d="M958.7 1073.2H1315.7 M1137.2 894.7V1251.7" stroke="#333" stroke-width="1.8"/>
<path d="M1047.95 1073.2V1068.7 M1226.45 1073.2V1068.7 M1137.2 983.95H1141.7 M1137.2 1162.45H1141.7" stroke="#333" stroke-width="1.8"/>
<path d="M1159.8 1095.3L1173.4 1113.9L1159.8 1132.5L1146.2 1113.9Z" fill="#1c2216" stroke="#1a1a1a" stroke-width="2" stroke-linejoin="miter" stroke-miterlimit="10"/>
<path d="M1111.2 1102.9L1124.8 1121.5L1111.2 1140.1L1097.6 1121.5Z" fill="#3a4e22" stroke="#1a1a1a" stroke-width="2" stroke-linejoin="miter" stroke-miterlimit="10"/>
<path d="M1163.2 1098.4L1176.8 1117L1163.2 1135.6L1149.6 1117Z" fill="#d08b35" stroke="#1a1a1a" stroke-width="2" stroke-linejoin="miter" stroke-miterlimit="10"/>
<path d="M1100.4 1088.4L1114 1107L1100.4 1125.6L1086.8 1107Z" fill="#ddaa82" stroke="#1a1a1a" stroke-width="2" stroke-linejoin="miter" stroke-miterlimit="10"/>
<path d="M1051.8 1129.8L1065.4 1148.4L1051.8 1167L1038.2 1148.4Z" fill="#f5e4d8" stroke="#1a1a1a" stroke-width="2" stroke-linejoin="miter" stroke-miterlimit="10"/>
<path d="M1030.7 1107.7L1044.3 1126.3L1030.7 1144.9L1017.1 1126.3Z" fill="#efe9d6" stroke="#1a1a1a" stroke-width="2" stroke-linejoin="miter" stroke-miterlimit="10"/>
<path d="M1023.5 1088.4L1037.1 1107L1023.5 1125.6L1009.9 1107Z" fill="#b0c4a0" stroke="#1a1a1a" stroke-width="2" stroke-linejoin="miter" stroke-miterlimit="10"/>
<path d="M1026.6 1010.1L1040.2 1028.7L1026.6 1047.3L1013 1028.7Z" fill="#6a9f8e" stroke="#1a1a1a" stroke-width="2" stroke-linejoin="miter" stroke-miterlimit="10"/>
<path d="M1063.4 1087.4L1077 1106L1063.4 1124.6L1049.8 1106Z" fill="#237a80" stroke="#1a1a1a" stroke-width="2" stroke-linejoin="miter" stroke-miterlimit="10"/>
<path d="M1107.3 1091.8L1120.9 1110.4L1107.3 1129L1093.7 1110.4Z" fill="#134a6a" stroke="#1a1a1a" stroke-width="2" stroke-linejoin="miter" stroke-miterlimit="10"/>
<path d="M1164.2 1091.1L1177.8 1109.7L1164.2 1128.3L1150.6 1109.7Z" fill="#1a1a52" stroke="#1a1a1a" stroke-width="2" stroke-linejoin="miter" stroke-miterlimit="10"/>
<circle cx="1137.2" cy="1073.2" r="178.5" fill="none" stroke="#111" stroke-width="2" stroke-dasharray="38.2 24.2" transform="matrix(1 0 0 -1 0 2146.4)"/>
<circle cx="1137.2" cy="1073.2" r="124.95" fill="none" stroke="#111" stroke-width="2" stroke-dasharray="38.2 24.2" transform="matrix(1 0 0 -1 0 2146.4)"/>
<clipPath id="c5"><rect x="98.7" y="1414.5" width="534.3" height="157.8"/></clipPath>
<polyline points="98.7,1454.75 105.06,1471.21 111.42,1441.58 117.78,1469.66 124.14,1445.45 130.5,1471.6 136.86,1462.5 143.22,1495.81 149.59,1528.73 155.95,1492.9 162.31,1467.73 168.67,1489.03 175.03,1467.73 181.39,1507.43 187.75,1556.81 194.11,1535.51 200.47,1494.84 206.83,1519.05 213.19,1533.57 219.55,1433.45 225.91,1425.51 232.27,1433.45 238.64,1441.19 245,1502.59 251.36,1499.68 257.72,1461.33 264.08,1513.24 270.44,1477.41 276.8,1438.67 283.16,1452.23 289.52,1494.26 295.88,1534.54 302.24,1516.72 308.6,1509.36 314.96,1540.35 321.32,1571.73 327.69,1519.05 334.05,1500.65 340.41,1530.67 346.77,1491.55 353.13,1494.84 359.49,1517.11 365.85,1572.31 372.21,1539.38 378.57,1506.46 384.93,1547.13 391.29,1502.01 397.65,1525.83 404.01,1521.57 410.37,1537.45 416.74,1520.98 423.1,1489.03 429.46,1485.74 435.82,1491.35 442.18,1454.56 448.54,1455.52 454.9,1494.84 461.26,1503.55 467.62,1449.33 473.98,1482.25 480.34,1440.22 486.7,1435.19 493.06,1447 499.42,1469.66 505.79,1467.73 512.15,1448.36 518.51,1444.48 524.87,1443.13 531.23,1443.9 537.59,1447.78 543.95,1456.69 550.31,1446.42 556.67,1450.3 563.03,1457.07 569.39,1442.55 575.75,1439.64 582.11,1461.92 588.47,1450.88 594.84,1452.23 601.2,1460.95 607.56,1470.05 613.92,1455.52 620.28,1448.36 626.64,1457.46" fill="none" stroke="#0072BD" stroke-width="2.2" stroke-linejoin="round" clip-path="url(#c5)"/>
<polyline points="98.7,1492.9 105.06,1519.05 111.42,1520.6 117.78,1505.49 124.14,1499.1 130.5,1524.86 136.86,1520.6 143.22,1503.55 149.59,1495.42 155.95,1510.91 162.31,1510.33 168.67,1497.36 175.03,1441.58 181.39,1506.46 187.75,1501.62 194.11,1498.71 200.47,1501.62 206.83,1486.12 213.19,1483.22 219.55,1505.1 225.91,1511.69 232.27,1503.55 238.64,1504.52 245,1496.78 251.36,1483.22 257.72,1501.62 264.08,1492.9 270.44,1476.83 276.8,1476.44 283.16,1488.06 289.52,1496.78 295.88,1491.35 302.24,1481.28 308.6,1457.46 314.96,1493.87 321.32,1499.1 327.69,1476.05 334.05,1450.3 340.41,1487.09 346.77,1466.76 353.13,1446.42 359.49,1437.71 365.85,1471.6 372.21,1492.9 378.57,1480.31 384.93,1476.05 391.29,1462.5 397.65,1498.13 404.01,1508.4 410.37,1511.88 416.74,1503.55 423.1,1472.57 429.46,1447.78 435.82,1435.38 442.18,1421.24 448.54,1413.5 454.9,1441.97 461.26,1442.94 467.62,1435.38 473.98,1481.28 480.34,1502.59 486.7,1505.1 493.06,1484.19 499.42,1466.76 505.79,1487.09 512.15,1494.84 518.51,1501.04 524.87,1490 531.23,1466.76 537.59,1455.14 543.95,1512.27 550.31,1482.25 556.67,1486.12 563.03,1501.04 569.39,1500.07 575.75,1498.71 582.11,1498.71 588.47,1489.03 594.84,1491.55 601.2,1486.71 607.56,1494.84 613.92,1492.52 620.28,1491.55 626.64,1495.81" fill="none" stroke="#D95319" stroke-width="2.2" stroke-linejoin="round" clip-path="url(#c5)"/>
<path d="M98.7 1572.3V1565.3 M98.7 1414.5V1421.5 M276.8 1572.3V1565.3 M276.8 1414.5V1421.5 M454.9 1572.3V1565.3 M454.9 1414.5V1421.5 M633 1572.3V1565.3 M633 1414.5V1421.5 M98.7 1565.8H105.7 M633 1565.8H626 M98.7 1524.8H105.7 M633 1524.8H626 M98.7 1483.8H105.7 M633 1483.8H626 M98.7 1442.8H105.7 M633 1442.8H626" stroke="#000" stroke-width="2" fill="none"/>
<rect x="98.7" y="1414.5" width="534.3" height="157.8" fill="none" stroke="#000" stroke-width="2"/>
<clipPath id="c6"><rect x="802.7" y="1414.5" width="536.3" height="157.8"/></clipPath>
<polyline points="802.7,1506.96 815.47,1489.37 828.24,1454.79 841.01,1509.28 853.78,1449.38 866.55,1465.41 879.31,1469.67 892.08,1478.75 904.85,1462.9 917.62,1481.84 930.39,1448.41 943.16,1457.1 955.93,1467.15 968.7,1440.87 981.47,1450.73 994.24,1457.1 1007,1470.63 1019.77,1459.62 1032.54,1471.98 1045.31,1464.45 1058.08,1501.94 1070.85,1479.33 1083.62,1458.65 1096.39,1501.16 1109.16,1501.94 1121.93,1557.59 1134.7,1526.67 1147.46,1477.97 1160.23,1472.56 1173,1477.97 1185.77,1429.09 1198.54,1423.29 1211.31,1449.76 1224.08,1490.92 1236.85,1503.87 1249.62,1558.55 1262.39,1480.29 1275.15,1473.14 1287.92,1526.67 1300.69,1554.11 1313.46,1448.99 1326.23,1459.04" fill="none" stroke="#0072BD" stroke-width="2.2" stroke-linejoin="round" clip-path="url(#c6)"/>
<polyline points="802.7,1571.5 815.47,1524.74 828.24,1507.93 841.01,1548.89 853.78,1520.87 866.55,1541.16 879.31,1553.34 892.08,1546.96 904.85,1524.35 917.62,1525.12 930.39,1536.33 943.16,1487.64 955.93,1518.94 968.7,1563.38 981.47,1546.96 994.24,1543.67 1007,1537.3 1019.77,1530.15 1032.54,1531.89 1045.31,1547.92 1058.08,1532.47 1070.85,1503.48 1083.62,1476.81 1096.39,1472.95 1109.16,1457.49 1121.93,1444.93 1134.7,1501.55 1147.46,1565.32 1160.23,1548.89 1173,1561.84 1185.77,1554.69 1198.54,1567.25 1211.31,1555.27 1224.08,1553.72 1236.85,1539.23 1249.62,1518.94 1262.39,1527.25 1275.15,1516.43 1287.92,1462.32 1300.69,1539.23 1313.46,1533.43 1326.23,1516.62" fill="none" stroke="#D95319" stroke-width="2.2" stroke-linejoin="round" clip-path="url(#c6)"/>
<path d="M802.7 1572.3V1565.3 M802.7 1414.5V1421.5 M981.47 1572.3V1565.3 M981.47 1414.5V1421.5 M1160.23 1572.3V1565.3 M1160.23 1414.5V1421.5 M1339 1572.3V1565.3 M1339 1414.5V1421.5 M802.7 1531.5H809.7 M1339 1531.5H1332 M802.7 1472.95H809.7 M1339 1472.95H1332 M802.7 1414.4H809.7 M1339 1414.4H1332" stroke="#000" stroke-width="2" fill="none"/>
<rect x="802.7" y="1414.5" width="536.3" height="157.8" fill="none" stroke="#000" stroke-width="2"/>
<rect x="96.3" y="1721.4" width="50.43" height="334.8" fill="#e3e3e3"/>
<rect x="198.76" y="1721.4" width="48.78" height="334.8" fill="#e3e3e3"/>
<rect x="299.56" y="1721.4" width="48.78" height="334.8" fill="#e3e3e3"/>
<rect x="400.36" y="1721.4" width="50.43" height="334.8" fill="#e3e3e3"/>
<rect x="497.86" y="1721.4" width="50.43" height="334.8" fill="#e3e3e3"/>
<rect x="598.66" y="1721.4" width="50.43" height="334.8" fill="#e3e3e3"/>
<rect x="699.47" y="1721.4" width="50.43" height="334.8" fill="#e3e3e3"/>
<rect x="801.92" y="1721.4" width="48.78" height="334.8" fill="#e3e3e3"/>
<clipPath id="c7"><rect x="97.9" y="1721.4" width="755.2" height="334.8"/></clipPath>
<polyline points="162.35,1869.75 164,1900.63 165.65,1881.97 167.31,1866.85 168.96,1880.37 170.61,1925.4 172.26,1917.36 173.92,2005.83 175.57,2055.7 177.22,1942.46 178.87,1915.75 180.53,1903.85 182.18,1832.11 183.83,1816.99 185.48,1818.6 187.14,1850.45 188.79,1904.49 190.44,1960.79 192.09,1862.03 193.75,1894.84 195.4,1928.62 197.05,1902.88 198.7,1912.54 200.36,1853.02 202.01,1941.49 203.66,1897.42 205.31,1889.05 206.97,1857.85 208.62,1914.79 210.27,1866.53 211.92,1860.42 213.58,1870.71 215.23,1842.72 216.88,1818.6 218.53,1883.58 220.19,1900.63 221.84,1876.18 223.49,1899.67 225.14,1894.84 226.8,1862.03 228.45,1887.76 230.1,1913.5 231.75,1881.97 233.41,1873.93 235.06,1922.19 236.71,1859.45 238.36,1864.28 240.02,1828.25 241.67,1897.42 243.32,1856.88 244.97,1884.55 246.63,1889.05 248.28,1828.25 249.93,1850.45 251.58,1845.94 253.24,1868.46 254.89,1883.58 256.54,1897.42 258.19,1860.1 259.85,1934.09 261.5,1890.98 263.15,1873.93 264.8,1869.75 266.46,1861.06 268.11,1906.1 269.76,1871.36 271.41,1862.03 273.07,1861.06 274.72,1860.1 276.37,1858.81 278.02,1858.49 279.68,1858.17 281.33,1860.1 282.98,1858.17 284.63,1858.17 286.29,1862.03 287.94,1858.17 289.59,1857.85 291.24,1858.81 292.9,1861.06 294.55,1858.81 296.2,1858.17 297.85,1858.81 299.51,1858.81 306.87,1856.92 310.32,1865.89 313.77,1858.3 331.71,1856.92 335.85,1859.68 338.61,1858.3 353.8,1858.3 357.25,1861.06 361.39,1857.61 389.68,1858.3 396.58,1856.51 403.48,1858.3 421.42,1857.33 424.87,1859.68 432.46,1858.71 436.6,1860.65 449.02,1860.09 457.3,1858.99 462.82,1860.09 479.38,1858.3 494.56,1856.92 497.32,1858.99 503.23,1858.3 507.37,1856.51 522.55,1857.33 533.59,1858.99 547.39,1858.3 549.46,1857.33 552.91,1856.23 577.76,1857.89 605.36,1857.33 613.64,1858.3 638.48,1858.3 641.24,1856.23 646.76,1857.61 660.56,1855.95 672.98,1858.3 679.88,1856.92 682.64,1859.68 684.02,1875.55 686.78,1868.65 689.54,1868.65 692.3,1914.19 701.07,1880.17 702.72,1917.83 704.37,1842.9 706.03,1956.25 707.68,1914.75 709.33,1925.51 710.98,1887.85 712.64,1912.06 714.29,1867.1 715.94,1942.8 717.59,1901.69 719.25,1891.7 720.9,1867.1 722.55,1864.8 724.2,1906.3 725.86,1876.33 727.51,1910.14 729.16,1907.45 730.81,1879.4 732.47,1872.48 734.12,1880.17 735.77,1858.27 737.42,1834.44 739.08,1858.27 740.73,1890.93 742.38,1870.56 744.03,1881.32 745.69,1870.56 747.34,1915.14 748.99,1868.64 750.64,1836.36 752.3,1862.11 753.95,1947.8 755.6,1818.69 757.25,1887.09 758.91,1982.38 760.56,1868.64 762.21,1880.17 763.86,1883.24 765.52,1870.56 767.17,1882.47 768.82,1944.72" fill="none" stroke="#0072BD" stroke-width="1.9" stroke-linejoin="round" clip-path="url(#c7)"/>
<polyline points="162.35,1910.28 164,1939.88 165.65,1937.63 167.31,1935.06 168.96,1914.79 170.61,1910.28 172.26,1951.14 173.92,1997.15 175.57,1894.84 177.22,1899.02 178.87,1869.11 180.53,1907.07 182.18,1862.03 183.83,1865.89 185.48,1876.18 187.14,1884.55 188.79,1880.37 190.44,1899.67 192.09,1908.35 193.75,1898.06 195.4,1915.11 197.05,1901.92 198.7,1922.19 200.36,1955.32 202.01,1893.23 203.66,1862.03 205.31,1879.4 206.97,1869.11 208.62,1856.88 210.27,1869.11 211.92,1878.11 213.58,1852.05 215.23,1872.32 216.88,1860.1 218.53,1897.42 220.19,1907.71 221.84,1901.28 223.49,1869.11 225.14,1864.28 226.8,1790.93 228.45,1848.19 230.1,1930.87 231.75,1917.36 233.41,1907.71 235.06,1899.67 236.71,1886.8 238.36,1869.75 240.02,1878.76 241.67,1902.24 243.32,1886.8 244.97,1873.29 246.63,1921.22 248.28,1902.88 249.93,1888.41 251.58,1881.97 253.24,1888.41 254.89,1897.42 256.54,1888.41 258.19,1893.23 259.85,1890.98 261.5,1886.8 263.15,1886.8 264.8,1890.02 266.46,1892.27 268.11,1898.06 269.76,1900.63 271.41,1894.84 273.07,1890.02 274.72,1889.05 276.37,1898.7 278.02,1907.07 279.68,1902.88 281.33,1889.05 282.98,1887.76 284.63,1890.02 286.29,1884.55 287.94,1886.8 289.59,1887.76 291.24,1892.27 292.9,1885.83 294.55,1892.27 296.2,1897.42 297.85,1907.71 299.51,1900.63 304.11,1882.45 308.94,1916.95 314.46,1891.42 315.84,1899.01 321.36,1878.31 324.12,1884.52 328.95,1872.79 337.23,1885.9 339.99,1882.45 344.14,1883.14 347.59,1874.17 353.8,1884.52 359.32,1883.14 362.08,1890.04 366.22,1887.97 368.98,1895.56 373.81,1907.98 377.26,1886.59 380.02,1881.07 386.23,1887.97 390.37,1884.52 395.2,1880.38 398.65,1883.14 402.1,1881.07 405.55,1883.83 414.52,1884.52 422.8,1878.03 426.25,1894.87 430.39,1885.9 433.15,1892.11 437.98,1885.9 444.19,1879 451.09,1885.21 455.92,1881.07 461.44,1885.21 471.1,1880.38 478,1885.9 484.21,1890.73 493.18,1885.9 495.94,1890.73 499.09,1887.28 503.23,1899.01 505.3,1897.63 508.06,1883.83 512.2,1885.9 517.03,1879.69 523.93,1926.61 528.07,1890.73 531.52,1889.35 534.97,1883.83 540.49,1904.53 547.39,1879.69 549.46,1889.35 553.6,1881.76 559.82,1887.97 565.34,1881.76 568.1,1881.07 571.55,1905.22 577.07,1883.14 580.52,1888.66 586.73,1882.45 591.56,1905.22 594.32,1894.18 597.77,1903.15 601.22,1882.45 605.36,1890.73 609.5,1897.63 615.02,1886.59 616.4,1909.36 619.85,1890.04 623.3,1921.09 628.13,1899.01 631.58,1865.89 637.1,1886.59 641.24,1870.03 644,1846.57 650.21,1875.55 652.28,1867.27 656.42,1879 660.56,1883.83 662.63,1901.08 664.7,1883.83 668.84,1915.57 671.6,1887.28 674.36,1899.01 679.19,1873.48 682.64,1897.63 686.09,1868.65 690.92,1916.95 701.07,1879.4 702.72,1868.64 704.37,1869.79 706.03,1890.16 707.68,1893.62 709.33,1941.65 710.98,1918.59 712.64,1914.75 714.29,1940.88 715.94,1887.85 717.59,1878.63 719.25,1878.63 720.9,1885.16 722.55,1885.16 724.2,1897.84 725.86,1927.43 727.51,1886.32 729.16,1882.47 730.81,1894.77 732.47,1906.3 734.12,1882.47 735.77,1895.54 737.42,1846.74 739.08,1808.31 740.73,1721.85 742.38,1771.04 744.03,1871.71 745.69,1879.4 747.34,1881.32 748.99,1908.99 750.64,1919.75 752.3,1915.14 753.95,1910.91 755.6,1920.9 757.25,1937.81 758.91,1879.4 760.56,1940.11 762.21,1957.02 763.86,1865.95 765.52,1876.33 767.17,1926.28 768.82,1942.8" fill="none" stroke="#D95319" stroke-width="1.9" stroke-linejoin="round" clip-path="url(#c7)"/>
<path d="M97.9 2056.2V2048.2 M97.9 1721.4V1729.4 M249.93 2056.2V2048.2 M249.93 1721.4V1729.4 M401.96 2056.2V2048.2 M401.96 1721.4V1729.4 M550.69 2056.2V2048.2 M550.69 1721.4V1729.4 M701.07 2056.2V2048.2 M701.07 1721.4V1729.4 M853.1 2056.2V2048.2 M853.1 1721.4V1729.4 M97.9 2038.1H105.9 M853.1 2038.1H845.1 M97.9 1958.75H105.9 M853.1 1958.75H845.1 M97.9 1879.4H105.9 M853.1 1879.4H845.1 M97.9 1800.05H105.9 M853.1 1800.05H845.1 M97.9 1720.7H105.9 M853.1 1720.7H845.1" stroke="#000" stroke-width="2" fill="none"/>
<rect x="97.9" y="1721.4" width="755.2" height="334.8" fill="none" stroke="#000" stroke-width="2"/>
<text x="129.9" y="2082.2" font-size="35.5" text-anchor="end" transform="rotate(-45 129.9 2082.2)">Jul 2018</text>
<text x="281.93" y="2082.2" font-size="35.5" text-anchor="end" transform="rotate(-45 281.93 2082.2)">Oct 2018</text>
<text x="421.96" y="2082.2" font-size="35.5" text-anchor="end" transform="rotate(-45 421.96 2082.2)">Jan 2019</text>
<text x="582.69" y="2082.2" font-size="35.5" text-anchor="end" transform="rotate(-45 582.69 2082.2)">Apr 2019</text>
<text x="733.07" y="2082.2" font-size="35.5" text-anchor="end" transform="rotate(-45 733.07 2082.2)">Jul 2019</text>
<text x="863.1" y="2076.2" font-size="35.5" text-anchor="end" transform="rotate(-45 863.1 2076.2)">Oct 2019</text>
<text x="31" y="1905" font-size="35.5" text-anchor="middle" transform="rotate(-90 31 1905)">W-E Velocity (cm s<tspan font-size="19.53" dy="-11.71">-1</tspan><tspan dy="11.71">)</tspan></text>
<path d="M954.6 1899.5H1311.6 M1133.1 1721V2078" stroke="#333" stroke-width="1.8"/>
<path d="M1043.85 1899.5V1895 M1222.35 1899.5V1895 M1133.1 1810.25H1137.6 M1133.1 1988.75H1137.6" stroke="#333" stroke-width="1.8"/>
<path d="M1140 1901.4L1153.6 1920L1140 1938.6L1126.4 1920Z" fill="#1c2216" stroke="#1a1a1a" stroke-width="2" stroke-linejoin="miter" stroke-miterlimit="10"/>
<path d="M1143 1906.4L1156.6 1925L1143 1943.6L1129.4 1925Z" fill="#6e6224" stroke="#1a1a1a" stroke-width="2" stroke-linejoin="miter" stroke-miterlimit="10"/>
<path d="M1148 1905.4L1161.6 1924L1148 1942.6L1134.4 1924Z" fill="#ddaa82" stroke="#1a1a1a" stroke-width="2" stroke-linejoin="miter" stroke-miterlimit="10"/>
<path d="M1157.4 1897.2L1171 1915.8L1157.4 1934.4L1143.8 1915.8Z" fill="#f5e4d8" stroke="#1a1a1a" stroke-width="2" stroke-linejoin="miter" stroke-miterlimit="10"/>
<path d="M1070.9 1876.7L1084.5 1895.3L1070.9 1913.9L1057.3 1895.3Z" fill="#efe9d6" stroke="#1a1a1a" stroke-width="2" stroke-linejoin="miter" stroke-miterlimit="10"/>
<path d="M1079.1 1888.7L1092.7 1907.3L1079.1 1925.9L1065.5 1907.3Z" fill="#b0c4a0" stroke="#1a1a1a" stroke-width="2" stroke-linejoin="miter" stroke-miterlimit="10"/>
<path d="M1085.4 1885.8L1099 1904.4L1085.4 1923L1071.8 1904.4Z" fill="#6a9f8e" stroke="#1a1a1a" stroke-width="2" stroke-linejoin="miter" stroke-miterlimit="10"/>
<path d="M1112.9 1900.5L1126.5 1919.1L1112.9 1937.7L1099.3 1919.1Z" fill="#237a80" stroke="#1a1a1a" stroke-width="2" stroke-linejoin="miter" stroke-miterlimit="10"/>
<path d="M1142.9 1903.2L1156.5 1921.8L1142.9 1940.4L1129.3 1921.8Z" fill="#1a1a52" stroke="#1a1a1a" stroke-width="2" stroke-linejoin="miter" stroke-miterlimit="10"/>
<circle cx="1133.1" cy="1899.5" r="178.5" fill="none" stroke="#111" stroke-width="2" stroke-dasharray="38.2 24.2" transform="matrix(1 0 0 -1 0 3799)"/>
<circle cx="1133.1" cy="1899.5" r="124.95" fill="none" stroke="#111" stroke-width="2" stroke-dasharray="38.2 24.2" transform="matrix(1 0 0 -1 0 3799)"/>
<clipPath id="c8"><rect x="108.2" y="2234.5" width="537.8" height="159.2"/></clipPath>
<polyline points="108.2,2281.4 114.6,2299.95 121,2288.75 127.41,2279.67 133.81,2287.78 140.21,2314.83 146.61,2310 153.02,2363.12 159.42,2393.07 165.82,2325.06 172.22,2309.03 178.63,2301.88 185.03,2258.8 191.43,2249.72 197.83,2250.69 204.24,2269.81 210.64,2302.27 217.04,2336.08 223.44,2276.77 229.85,2296.47 236.25,2316.76 242.65,2301.3 249.05,2307.1 255.45,2271.36 261.86,2324.49 268.26,2298.02 274.66,2293 281.06,2274.26 287.47,2308.45 293.87,2279.47 300.27,2275.8 306.67,2281.98 313.08,2265.18 319.48,2250.69 325.88,2289.71 332.28,2299.95 338.69,2285.27 345.09,2299.37 351.49,2296.47 357.89,2276.77 364.3,2292.22 370.7,2307.68 377.1,2288.75 383.5,2283.92 389.9,2312.89 396.31,2275.22 402.71,2278.12 409.11,2256.48 415.51,2298.02 421.92,2273.68 428.32,2290.29 434.72,2293 441.12,2256.48 447.53,2269.81 453.93,2267.11 460.33,2280.63 466.73,2289.71 473.14,2298.02 479.54,2275.61 485.94,2320.04 492.34,2294.15 498.75,2283.92 505.15,2281.4 511.55,2276.19 517.95,2303.23 524.35,2282.37 530.76,2276.77 537.16,2276.19 543.56,2275.61 549.96,2274.84 556.37,2274.64 562.77,2274.45 569.17,2275.61 575.57,2274.45 581.98,2274.45 588.38,2276.77 594.78,2274.45 601.18,2274.26 607.59,2274.84 613.99,2276.19 620.39,2274.84 626.79,2274.45 633.2,2274.84 639.6,2274.84" fill="none" stroke="#0072BD" stroke-width="2.2" stroke-linejoin="round" clip-path="url(#c8)"/>
<polyline points="108.2,2305.75 114.6,2323.52 121,2322.17 127.41,2320.62 133.81,2308.45 140.21,2305.75 146.61,2330.28 153.02,2357.91 159.42,2296.47 165.82,2298.98 172.22,2281.02 178.63,2303.81 185.03,2276.77 191.43,2279.09 197.83,2285.27 204.24,2290.29 210.64,2287.78 217.04,2299.37 223.44,2304.59 229.85,2298.4 236.25,2308.64 242.65,2300.72 249.05,2312.89 255.45,2332.79 261.86,2295.51 268.26,2276.77 274.66,2287.2 281.06,2281.02 287.47,2273.68 293.87,2281.02 300.27,2286.43 306.67,2270.78 313.08,2282.95 319.48,2275.61 325.88,2298.02 332.28,2304.2 338.69,2300.34 345.09,2281.02 351.49,2278.12 357.89,2234.07 364.3,2268.46 370.7,2318.11 377.1,2310 383.5,2304.2 389.9,2299.37 396.31,2291.64 402.71,2281.4 409.11,2286.81 415.51,2300.92 421.92,2291.64 428.32,2283.53 434.72,2312.31 441.12,2301.3 447.53,2292.61 453.93,2288.75 460.33,2292.61 466.73,2298.02 473.14,2292.61 479.54,2295.51 485.94,2294.15 492.34,2291.64 498.75,2291.64 505.15,2293.58 511.55,2294.93 517.95,2298.4 524.35,2299.95 530.76,2296.47 537.16,2293.58 543.56,2293 549.96,2298.79 556.37,2303.81 562.77,2301.3 569.17,2293 575.57,2292.22 581.98,2293.58 588.38,2290.29 594.78,2291.64 601.18,2292.22 607.59,2294.93 613.99,2291.06 620.39,2294.93 626.79,2298.02 633.2,2304.2 639.6,2299.95" fill="none" stroke="#D95319" stroke-width="2.2" stroke-linejoin="round" clip-path="url(#c8)"/>
<path d="M108.2 2393.7V2386.7 M108.2 2234.5V2241.5 M287.47 2393.7V2386.7 M287.47 2234.5V2241.5 M466.73 2393.7V2386.7 M466.73 2234.5V2241.5 M646 2393.7V2386.7 M646 2234.5V2241.5 M108.2 2382.5H115.2 M646 2382.5H639 M108.2 2334.85H115.2 M646 2334.85H639 M108.2 2287.2H115.2 M646 2287.2H639 M108.2 2239.55H115.2 M646 2239.55H639" stroke="#000" stroke-width="2" fill="none"/>
<rect x="108.2" y="2234.5" width="537.8" height="159.2" fill="none" stroke="#000" stroke-width="2"/>
<clipPath id="c9"><rect x="817.8" y="2234.5" width="538.9" height="159.2"/></clipPath>
<polyline points="817.8,2314.29 830.63,2333.22 843.46,2295.54 856.29,2352.54 869.12,2331.68 881.95,2337.09 894.79,2318.15 907.62,2330.32 920.45,2307.72 933.28,2345.78 946.11,2325.11 958.94,2320.08 971.77,2307.72 984.6,2306.56 997.43,2327.43 1010.26,2312.35 1023.1,2329.36 1035.93,2328.01 1048.76,2313.9 1061.59,2310.42 1074.42,2314.29 1087.25,2303.27 1100.08,2291.29 1112.91,2303.27 1125.74,2319.7 1138.57,2309.46 1151.4,2314.87 1164.24,2309.46 1177.07,2331.87 1189.9,2308.49 1202.73,2292.26 1215.56,2305.21 1228.39,2348.29 1241.22,2283.37 1254.05,2317.76 1266.88,2365.68 1279.71,2308.49 1292.55,2314.29 1305.38,2315.83 1318.21,2309.46 1331.04,2315.45 1343.87,2346.75" fill="none" stroke="#0072BD" stroke-width="2.2" stroke-linejoin="round" clip-path="url(#c9)"/>
<polyline points="817.8,2313.9 830.63,2308.49 843.46,2309.07 856.29,2319.31 869.12,2321.05 881.95,2345.2 894.79,2333.61 907.62,2331.68 920.45,2344.82 933.28,2318.15 946.11,2313.51 958.94,2313.51 971.77,2316.8 984.6,2316.8 997.43,2323.17 1010.26,2338.05 1023.1,2317.38 1035.93,2315.45 1048.76,2321.63 1061.59,2327.43 1074.42,2315.45 1087.25,2322.02 1100.08,2297.48 1112.91,2278.15 1125.74,2234.68 1138.57,2259.41 1151.4,2310.04 1164.24,2313.9 1177.07,2314.87 1189.9,2328.78 1202.73,2334.19 1215.56,2331.87 1228.39,2329.74 1241.22,2334.77 1254.05,2343.27 1266.88,2313.9 1279.71,2344.43 1292.55,2352.93 1305.38,2307.14 1318.21,2312.35 1331.04,2337.47 1343.87,2345.78" fill="none" stroke="#D95319" stroke-width="2.2" stroke-linejoin="round" clip-path="url(#c9)"/>
<path d="M817.8 2393.7V2386.7 M817.8 2234.5V2241.5 M997.43 2393.7V2386.7 M997.43 2234.5V2241.5 M1177.07 2393.7V2386.7 M1177.07 2234.5V2241.5 M1356.7 2393.7V2386.7 M1356.7 2234.5V2241.5 M817.8 2393.7H824.8 M1356.7 2393.7H1349.7 M817.8 2313.9H824.8 M1356.7 2313.9H1349.7 M817.8 2234.1H824.8 M1356.7 2234.1H1349.7" stroke="#000" stroke-width="2" fill="none"/>
<rect x="817.8" y="2234.5" width="538.9" height="159.2" fill="none" stroke="#000" stroke-width="2"/>
<text x="314.5" y="93.24" font-size="35.99" font-weight="bold">Stefansson Sound</text>
<text x="405.16" y="150.55" font-size="29.79">Observed</text>
<text x="613.07" y="150.55" font-size="30.31">Modeled</text>
<text x="131.57" y="152.75" font-size="32.15">(a)</text>
<text x="60.75" y="184.95" font-size="35.08">20</text>
<text x="62.19" y="254.27" font-size="33.46">10</text>
<text x="80.13" y="324.45" font-size="34.5">0</text>
<text x="52.72" y="393.75" font-size="34.55">-10</text>
<text x="55.82" y="465.35" font-size="34.55">-20</text>
<text x="1079.38" y="25.57" font-size="32.79">Month</text>
<text x="1103.09" y="139.67" font-size="32.62">Bias</text>
<text x="1310.14" y="321.57" font-size="32.59">uRMSD</text>
<text x="1238.56" y="192.67" font-size="32.53">15</text>
<text x="1209.88" y="233.88" font-size="32.29">10.5</text>
<text x="894.18" y="139.54" font-size="33.6">(b)</text>
<text x="44.27" y="628.05" font-size="34.69">20</text>
<text x="45.59" y="662.17" font-size="33.46">10</text>
<text x="66.63" y="696.36" font-size="34.5">0</text>
<text x="30.02" y="730.56" font-size="34.4">-10</text>
<text x="104.61" y="616.89" font-size="31.49">(c)</text>
<text x="44.9" y="796.59" font-size="35.28">Aug 09</text>
<text x="225.92" y="796.64" font-size="35.03">Sep 06</text>
<text x="408.64" y="797.65" font-size="34.75">Oct 04</text>
<text x="586.1" y="797.65" font-size="34.94">Nov 01</text>
<text x="531.59" y="845.64" font-size="36.19">2018</text>
<text x="741.92" y="599.94" font-size="35.67">20</text>
<text x="764.58" y="679.75" font-size="34.5">0</text>
<text x="728.21" y="759.15" font-size="34.84">-20</text>
<text x="794.79" y="616.81" font-size="31.88">(d)</text>
<text x="745.48" y="797.45" font-size="34.71">Jul 01</text>
<text x="927.38" y="797.45" font-size="34.84">Jul 15</text>
<text x="1108.37" y="797.45" font-size="35.29">Jul 29</text>
<text x="1283.5" y="796.7" font-size="34.77">Aug 12</text>
<text x="1225.93" y="845.65" font-size="35.47">2019</text>
<text x="393.81" y="894.33" font-size="39.39" font-weight="bold">Jago Lagoon</text>
<text x="107.18" y="938.79" font-size="31.97">(e)</text>
<text x="53.12" y="932.96" font-size="34.36">10</text>
<text x="72.38" y="1012.15" font-size="34.5">5</text>
<text x="71.73" y="1090.75" font-size="34.5">0</text>
<text x="60.21" y="1169.95" font-size="34.65">-5</text>
<text x="40.6" y="1249.27" font-size="32.57">-10</text>
<text x="1104.47" y="873.17" font-size="32.84">Bias</text>
<text x="1324.04" y="1074.97" font-size="32.68">uRMSD</text>
<text x="1253.68" y="943.88" font-size="32.32">15</text>
<text x="1223.6" y="984.97" font-size="33.33">10.5</text>
<text x="891.32" y="928.46" font-size="33.06">(f)</text>
<text x="63.13" y="1455.75" font-size="34.5">5</text>
<text x="63.13" y="1495.15" font-size="34.5">0</text>
<text x="48.75" y="1536.74" font-size="36.26">-5</text>
<text x="26.68" y="1577.74" font-size="35.57">-10</text>
<text x="102.3" y="1443.26" font-size="31.61">(g)</text>
<text x="41.9" y="1622.64" font-size="35.03">Aug 09</text>
<text x="219.72" y="1622.64" font-size="35.06">Sep 06</text>
<text x="398.83" y="1622.95" font-size="35">Oct 04</text>
<text x="574.24" y="1622.96" font-size="34.45">Nov 01</text>
<text x="520.89" y="1671.04" font-size="36.14">2018</text>
<text x="745.89" y="1427.17" font-size="33.46">10</text>
<text x="766.68" y="1484.95" font-size="34.5">5</text>
<text x="766.68" y="1543.75" font-size="34.5">0</text>
<text x="802.33" y="1441.9" font-size="32.88">(h)</text>
<text x="754.8" y="1622.76" font-size="33.52">Jul 01</text>
<text x="932.87" y="1622.75" font-size="35.03">Jul 15</text>
<text x="1111.37" y="1622.75" font-size="35.13">Jul 29</text>
<text x="1284" y="1622.8" font-size="34.29">Aug 12</text>
<text x="1226.69" y="1670.94" font-size="36.22">2019</text>
<text x="330.4" y="1703.56" font-size="36.92" font-weight="bold">Kaktovik Lagoon</text>
<text x="105.59" y="1748.02" font-size="31.81">(i)</text>
<text x="46.24" y="1732.66" font-size="34.16">10</text>
<text x="65.33" y="1811.95" font-size="34.5">5</text>
<text x="64.98" y="1890.65" font-size="34.5">0</text>
<text x="51.91" y="1969.45" font-size="34.65">-5</text>
<text x="33.4" y="2048.57" font-size="32.5">-10</text>
<text x="1106.89" y="1709.87" font-size="32.62">Bias</text>
<text x="1331.24" y="1910.87" font-size="32.68">uRMSD</text>
<text x="1261.77" y="1779.89" font-size="31.12">15</text>
<text x="1232.48" y="1821.78" font-size="32.24">10.5</text>
<text x="886.61" y="1747.6" font-size="31.42">(j)</text>
<text x="79.43" y="2252.26" font-size="34.5">5</text>
<text x="79.43" y="2301.46" font-size="34.5">0</text>
<text x="65.35" y="2347.94" font-size="36.26">-5</text>
<text x="46.64" y="2395.86" font-size="34.11">-10</text>
<text x="108.28" y="2264.19" font-size="31.97">(k)</text>
<text x="51.5" y="2444.14" font-size="34.58">Aug 09</text>
<text x="229.42" y="2444.04" font-size="35.03">Sep 06</text>
<text x="410.34" y="2443.95" font-size="34.58">Oct 04</text>
<text x="586.52" y="2443.95" font-size="34.81">Nov 01</text>
<text x="532.94" y="2492.25" font-size="35.15">2018</text>
<text x="766.78" y="2246.94" font-size="36.26">10</text>
<text x="788.43" y="2326.46" font-size="34.5">0</text>
<text x="759.86" y="2405.76" font-size="33.52">-10</text>
<text x="821.41" y="2263.6" font-size="31.42">(l)</text>
<text x="768.99" y="2443.76" font-size="34.02">Jul 01</text>
<text x="949.18" y="2443.75" font-size="34.72">Jul 15</text>
<text x="1129.98" y="2443.76" font-size="34.36">Jul 29</text>
<text x="1301.5" y="2443.79" font-size="34.32">Aug 12</text>
<text x="1244.41" y="2491.64" font-size="35.71">2019</text>
</svg></body></html>
